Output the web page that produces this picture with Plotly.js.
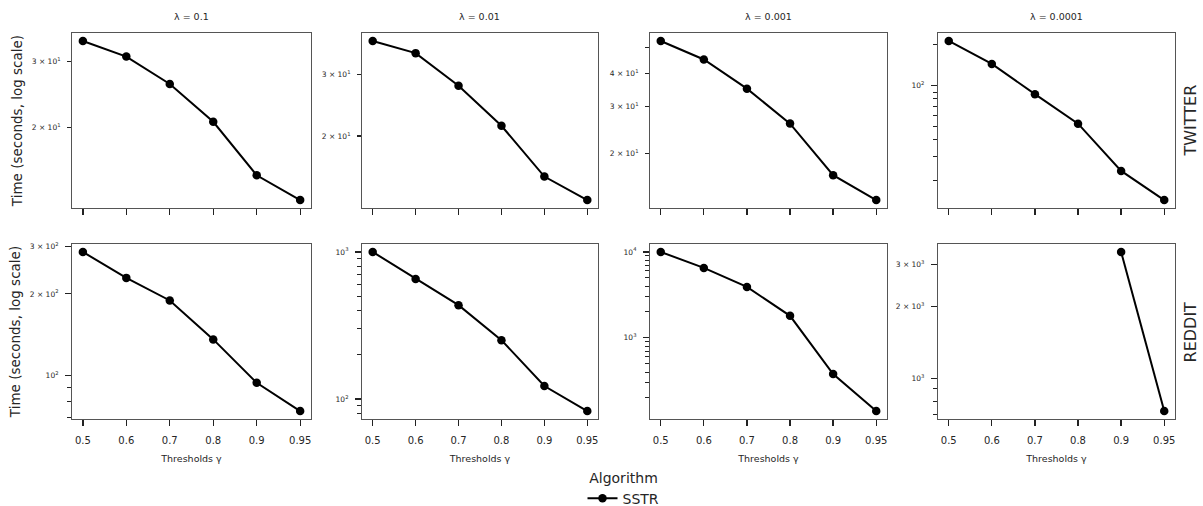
<!DOCTYPE html>
<html>
<head>
<meta charset="utf-8">
<script src="https://cdn.plot.ly/plotly-3.0.1.min.js"></script>
<style>html,body{margin:0;padding:0;background:#fff;}#chart{width:1203px;height:506px;}</style>
</head>
<body>
<div id="chart"></div>
<script>
// ---- data ----
const thresholds = ['0.5', '0.6', '0.7', '0.8', '0.9', '0.95'];
const lambdaTitles = ['λ = 0.1', 'λ = 0.01', 'λ = 0.001', 'λ = 0.0001'];
const datasets = ['TWITTER', 'REDDIT'];
const seriesName = 'SSTR';

const twitter_l1 = [34.0, 30.9, 26.1, 20.7, 14.9, 12.8];
const twitter_l2 = [37.5, 34.6, 27.9, 21.4, 15.3, 13.1];
const twitter_l3 = [52.8, 45.0, 35.0, 25.9, 16.6, 13.4];
const twitter_l4 = [214, 145, 86.8, 52.6, 23.6, 14.4];
const reddit_l1 = [285.8, 229.2, 189.1, 135.8, 93.9, 73.8];
const reddit_l2 = [1000, 655.6, 434.6, 251.5, 122.6, 82.9];
const reddit_l3 = [10000, 6516, 3917, 1803, 378.4, 140.5];
const reddit_l4 = [null, null, null, null, 3394, 726.9];

// labelled y ticks and unlabelled minor ticks per panel
const yTickVals = [[20, 30], [20, 30], [20, 30, 40], [100],
                   [100, 200, 300], [100, 1000], [1000, 10000], [1000, 2000, 3000]];
const yTickText = [
  ['2 × 10<sup>1</sup>', '3 × 10<sup>1</sup>'],
  ['2 × 10<sup>1</sup>', '3 × 10<sup>1</sup>'],
  ['2 × 10<sup>1</sup>', '3 × 10<sup>1</sup>', '4 × 10<sup>1</sup>'],
  ['10<sup>2</sup>'],
  ['10<sup>2</sup>', '2 × 10<sup>2</sup>', '3 × 10<sup>2</sup>'],
  ['10<sup>2</sup>', '10<sup>3</sup>'],
  ['10<sup>3</sup>', '10<sup>4</sup>'],
  ['10<sup>3</sup>', '2 × 10<sup>3</sup>', '3 × 10<sup>3</sup>']
];
const yMinorVals = [[], [], [50], [20, 30, 40, 50, 60, 70, 80, 90, 200],
  [70, 80, 90], [80, 90, 200, 300, 400, 500, 600, 700, 800, 900],
  [200, 300, 400, 500, 600, 700, 800, 900, 2000, 3000, 4000, 5000, 6000, 7000, 8000, 9000],
  [700, 800, 900]];

const allSeries = [twitter_l1, twitter_l2, twitter_l3, twitter_l4,
                   reddit_l1, reddit_l2, reddit_l3, reddit_l4];

// ---- layout geometry ----
const colDomains = [[0, 0.2167], [0.2629, 0.4769], [0.5240, 0.7389], [0.7851, 1]];
const rowDomains = [[0.5466, 1], [0, 0.4534]];
const FONT = 'DejaVu Sans, sans-serif';

const traces = [];
const layout = {
  width: 1203, height: 506,
  margin: {l: 72, r: 28, t: 33, b: 87, autoexpand: false},
  paper_bgcolor: '#fff', plot_bgcolor: '#fff',
  font: {family: FONT, color: '#262626'},
  showlegend: true,
  legend: {
    orientation: 'h', x: 0.5, xanchor: 'center', y: -0.2475, yanchor: 'bottom',
    font: {size: 14, family: FONT, color: '#262626'},
    title: {text: 'Algorithm', side: 'top center', font: {size: 14, family: FONT, color: '#262626'}},
    bgcolor: 'rgba(0,0,0,0)', tracegroupgap: 0
  },
  annotations: []
};

allSeries.forEach((vals, i) => {
  const row = i < 4 ? 0 : 1;
  const col = i % 4;
  const n = i + 1;
  const xa = n === 1 ? 'x' : 'x' + n;
  const ya = n === 1 ? 'y' : 'y' + n;
  traces.push({
    type: 'scatter', mode: 'lines+markers',
    x: thresholds, y: vals, xaxis: xa, yaxis: ya,
    name: seriesName, showlegend: i === 0, legendgroup: 'sstr',
    line: {color: '#000', width: 2},
    marker: {color: '#000', size: 8.5},
    connectgaps: false, cliponaxis: false
  });
  const finite = vals.filter(v => v !== null).map(v => Math.log10(v));
  const lo = Math.min(...finite), hi = Math.max(...finite);
  const pad = (hi - lo) * 0.05;
  const hasDecade = yTickVals[i].some(v => Math.abs(Math.log10(v) - Math.round(Math.log10(v))) < 1e-9);
  const xkey = n === 1 ? 'xaxis' : 'xaxis' + n;
  const ykey = n === 1 ? 'yaxis' : 'yaxis' + n;
  const xax = {
    domain: colDomains[col], anchor: ya,
    type: 'category', categoryorder: 'array', categoryarray: thresholds,
    range: [-0.25, thresholds.length - 0.75],
    showgrid: false, zeroline: false,
    showline: true, mirror: true, linecolor: '#555', linewidth: 1,
    ticks: 'outside', ticklen: 6, tickwidth: 1.3, tickcolor: '#222',
    showticklabels: row === 1,
    tickfont: {size: 10, family: FONT, color: '#262626'},
    ticklabelstandoff: 6,
    automargin: false
  };
  if (row === 1) xax.title = {text: 'Thresholds γ', font: {size: 9.5, family: FONT, color: '#262626'}, standoff: 10};
  layout[xkey] = xax;
  const yax = {
    domain: rowDomains[row], anchor: xa,
    type: 'log',
    range: [lo - pad, hi + pad],
    showgrid: false, zeroline: false,
    showline: true, mirror: true, linecolor: '#555', linewidth: 1,
    tickmode: 'array', tickvals: yTickVals[i], ticktext: yTickText[i],
    ticks: 'outside', ticklen: hasDecade ? 6 : 4, tickwidth: 1.2, tickcolor: '#222',
    tickfont: {size: 7.5, family: FONT, color: '#262626'},
    ticklabelstandoff: 5,
    minor: {tickmode: 'array', tickvals: yMinorVals[i], ticks: 'outside', ticklen: 4, tickwidth: 1, tickcolor: '#222'},
    automargin: false
  };
  if (col === 0) yax.title = {text: 'Time (seconds, log scale)', font: {size: 13.5, family: FONT, color: '#262626'}, standoff: 6};
  layout[ykey] = yax;
});

// column titles
lambdaTitles.forEach((t, c) => {
  layout.annotations.push({
    text: t, xref: 'paper', yref: 'paper',
    x: (colDomains[c][0] + colDomains[c][1]) / 2, y: 1.0415,
    xanchor: 'center', yanchor: 'middle', showarrow: false,
    font: {size: 9.5, family: FONT, color: '#262626'}
  });
});
// row labels
datasets.forEach((d, r) => {
  layout.annotations.push({
    text: d, xref: 'paper', yref: 'paper',
    x: 1.0145, y: (rowDomains[r][0] + rowDomains[r][1]) / 2,
    xanchor: 'center', yanchor: 'middle', showarrow: false, textangle: -90,
    font: {size: 16, family: FONT, color: '#262626'}
  });
});

Plotly.newPlot('chart', traces, layout, {displayModeBar: false, staticPlot: true});
</script>
</body>
</html>
